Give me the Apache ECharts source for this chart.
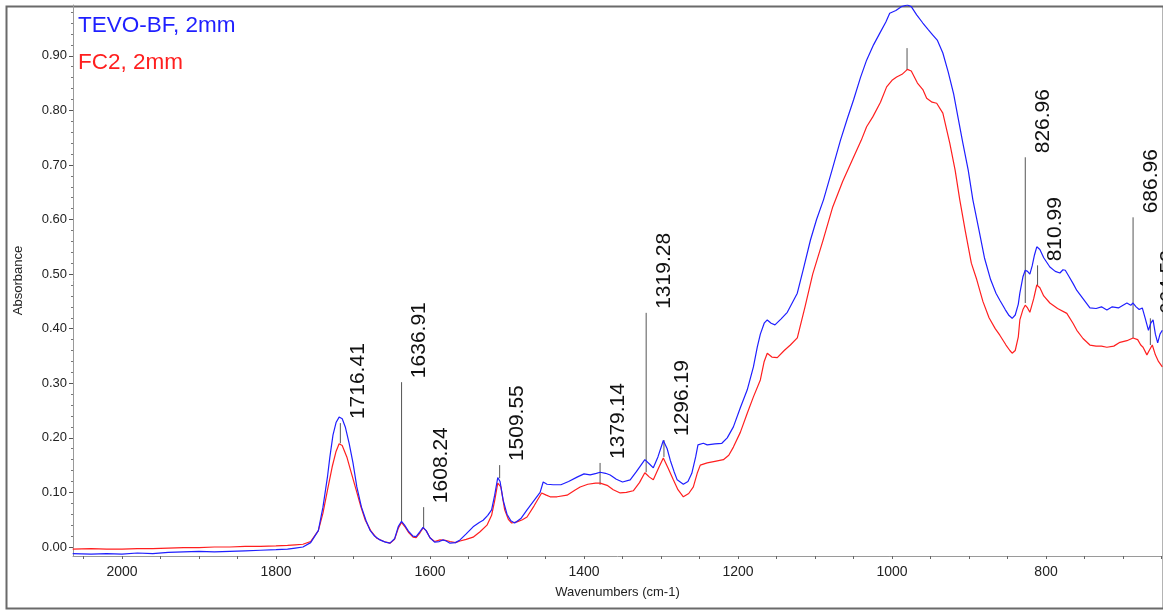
<!DOCTYPE html>
<html>
<head>
<meta charset="utf-8">
<script src="https://cdn.jsdelivr.net/npm/echarts@6/dist/echarts.min.js"></script>
<style>
html,body{margin:0;padding:0;background:#fff;}
#chart{width:1163px;height:610px;}
</style>
</head>
<body>
<div id="chart"></div>
<script>
// ---- data ----
const seriesNames = ['TEVO-BF, 2mm', 'FC2, 2mm'];
const seriesColors = ['#1f1fff', '#ff1f1f'];

const blueWn = [2064,2040,2020,2000,1980,1960,1940,1920,1900,1880,1860,1840,1820,1800,1785,1775,1765,1755,1745,1739,1733,1730,1726,1722,1718,1714,1710,1705,1700,1695,1689,1683,1678,1672,1665,1658,1652,1646,1641,1637,1633,1628,1622,1618,1613,1609,1605,1600,1594,1588,1583,1579,1574,1567,1561,1553,1544,1536,1531,1525,1520,1516,1512,1509,1505,1500,1495,1490,1482,1474,1465,1457,1453,1448,1440,1430,1420,1409,1400,1392,1384,1379,1372,1366,1358,1350,1340,1332,1326,1321,1315,1310,1304,1297,1292,1288,1283,1279,1271,1265,1260,1255,1252,1245,1240,1230,1221,1214,1206,1197,1188,1180,1175,1171,1166,1162,1157,1152,1144,1136,1123,1115,1106,1098,1089,1078,1067,1058,1050,1041,1033,1024,1016,1008,1003,995,988,980,975,968,960,953,947,941,934,927,920,914,908,901,895,887,880,872,865,860,853,848,844,840,836,834,830,827,824,821,818,815,812,808,803,795,788,782,778,775,770,765,760,752,743,735,728,721,714,706,700,695,690,687,683,679,675,671,667,664,661,658,655,652,649];
const blueAbs = [-0.012,-0.013,-0.012,-0.013,-0.011,-0.012,-0.010,-0.009,-0.008,-0.009,-0.008,-0.007,-0.006,-0.005,-0.004,-0.002,0.000,0.008,0.030,0.073,0.130,0.165,0.205,0.228,0.238,0.235,0.220,0.190,0.154,0.110,0.073,0.048,0.031,0.020,0.013,0.009,0.007,0.015,0.038,0.047,0.040,0.029,0.020,0.019,0.028,0.036,0.030,0.017,0.009,0.010,0.013,0.011,0.007,0.008,0.013,0.024,0.037,0.045,0.049,0.058,0.068,0.095,0.127,0.120,0.086,0.060,0.048,0.044,0.052,0.068,0.085,0.100,0.119,0.115,0.114,0.114,0.120,0.128,0.134,0.132,0.135,0.137,0.135,0.132,0.124,0.119,0.123,0.138,0.150,0.160,0.152,0.145,0.165,0.195,0.180,0.159,0.138,0.123,0.115,0.120,0.135,0.165,0.187,0.190,0.187,0.189,0.190,0.200,0.220,0.255,0.288,0.330,0.366,0.390,0.410,0.416,0.410,0.407,0.418,0.430,0.465,0.510,0.562,0.600,0.636,0.690,0.745,0.785,0.819,0.860,0.892,0.920,0.941,0.962,0.978,0.983,0.990,0.993,0.990,0.975,0.960,0.948,0.938,0.928,0.905,0.870,0.830,0.785,0.740,0.690,0.636,0.580,0.530,0.490,0.465,0.452,0.435,0.424,0.419,0.425,0.445,0.465,0.495,0.507,0.505,0.500,0.515,0.535,0.550,0.545,0.530,0.513,0.505,0.502,0.508,0.507,0.495,0.483,0.470,0.455,0.438,0.437,0.440,0.434,0.440,0.438,0.443,0.447,0.443,0.447,0.440,0.435,0.438,0.418,0.397,0.410,0.416,0.390,0.374,0.390,0.397];

const redWn = [2064,2040,2020,2000,1980,1960,1940,1920,1900,1880,1860,1840,1820,1800,1785,1775,1765,1755,1745,1739,1733,1727,1722,1718,1714,1708,1703,1697,1690,1684,1677,1669,1660,1652,1646,1641,1637,1633,1628,1622,1618,1613,1609,1605,1600,1594,1587,1580,1574,1567,1561,1553,1544,1535,1526,1520,1516,1512,1508,1503,1498,1494,1487,1480,1474,1465,1455,1449,1444,1435,1422,1412,1405,1395,1385,1379,1370,1362,1353,1345,1336,1328,1321,1315,1310,1303,1297,1291,1284,1278,1271,1264,1258,1253,1249,1240,1230,1219,1212,1206,1197,1188,1180,1171,1166,1162,1156,1149,1140,1132,1123,1113,1103,1090,1077,1064,1050,1040,1033,1025,1015,1007,1000,994,987,980,975,967,960,955,948,942,934,925,918,912,905,897,890,882,874,866,860,852,847,844,840,836,834,830,827,824,821,816,812,808,803,795,785,773,765,760,752,743,735,728,721,712,704,695,687,681,677,674,669,666,662,658,654,649];
const redAbs = [-0.004,-0.003,-0.004,-0.004,-0.003,-0.003,-0.002,-0.001,-0.001,0.000,0.000,0.001,0.001,0.002,0.003,0.004,0.005,0.010,0.030,0.062,0.105,0.147,0.175,0.189,0.186,0.165,0.140,0.110,0.075,0.049,0.030,0.016,0.010,0.007,0.014,0.035,0.045,0.038,0.027,0.018,0.017,0.026,0.035,0.030,0.017,0.010,0.013,0.012,0.010,0.008,0.011,0.014,0.018,0.028,0.040,0.058,0.085,0.117,0.110,0.068,0.050,0.044,0.046,0.050,0.055,0.075,0.099,0.095,0.092,0.092,0.095,0.104,0.110,0.115,0.117,0.117,0.113,0.105,0.099,0.100,0.103,0.118,0.136,0.128,0.123,0.145,0.163,0.145,0.123,0.105,0.092,0.098,0.110,0.135,0.150,0.154,0.157,0.160,0.168,0.183,0.210,0.245,0.275,0.306,0.340,0.355,0.348,0.347,0.360,0.370,0.383,0.440,0.500,0.560,0.623,0.670,0.714,0.745,0.770,0.788,0.815,0.843,0.855,0.861,0.866,0.875,0.872,0.850,0.838,0.822,0.815,0.813,0.795,0.740,0.690,0.636,0.580,0.520,0.490,0.450,0.420,0.400,0.388,0.370,0.360,0.355,0.360,0.385,0.416,0.435,0.443,0.438,0.430,0.455,0.480,0.475,0.460,0.447,0.437,0.428,0.410,0.397,0.382,0.370,0.368,0.368,0.366,0.368,0.375,0.378,0.383,0.380,0.370,0.366,0.352,0.360,0.370,0.352,0.340,0.330];

// peak annotations: wavenumber, line top / bottom (absorbance), label text
const peakWn     = [1716.41,1636.91,1608.24,1509.55,1379.14,1319.28,1296.19,980.5,826.96,810.99,686.96,664.53];
const peakTop    = [0.227,0.302,0.073,0.150,0.154,0.429,0.196,0.914,0.714,0.516,0.604,0.419];
const peakBottom = [0.190,0.046,0.035,0.126,0.114,0.137,0.165,0.874,0.447,0.480,0.383,0.370];
const peakLabels = ['1716.41','1636.91','1608.24','1509.55','1379.14','1319.28','1296.19','','826.96','810.99','686.96','664.53'];

const xTickLabels = [2000,1800,1600,1400,1200,1000,800];
const xMinorTicks = [];
for (let v = 650; v <= 2050; v += 50) xMinorTicks.push(v);
const yTickLabels = [0,0.1,0.2,0.3,0.4,0.5,0.6,0.7,0.8,0.9];
const yMinorTicks = [];
for (let i = 0; i <= 49; i++) { const v = Math.round(i*2)/100; if (i % 5 !== 0) yMinorTicks.push(v); }

const X_MIN = 649.4, X_MAX = 2063.6, Y_MIN = -0.0165, Y_MAX = 0.993;
const FONT = '"Liberation Sans", Arial, sans-serif';

const chart = echarts.init(document.getElementById('chart'), null, {renderer: 'canvas'});

function pairs(xs, ys){ return xs.map((x,i)=>[x, ys[i]]); }

const option = {
  animation: false,
  backgroundColor: '#fff',
  textStyle: {fontFamily: FONT},
  graphic: [{
    type: 'rect', left: 4, top: 4, z: -10,
    shape: {x: 0, y: 0, width: 1157, height: 602},
    style: {fill: 'none', stroke: '#6a6a6a', lineWidth: 2}
  }],
  legend: {
    orient: 'vertical', left: 68, top: 7, itemGap: 9,
    itemWidth: 0, itemHeight: 0, icon: 'rect',
    selectedMode: false,
    textStyle: {fontSize: 22.5, lineHeight: 28, fontFamily: FONT},
    data: seriesNames.map((n,i)=>({name: n, textStyle: {color: seriesColors[i]}}))
  },
  grid: {left: 73, right: 1, top: 5, bottom: 54, containLabel: false},
  xAxis: [{
    type: 'value', inverse: true, min: X_MIN, max: X_MAX,
    name: 'Wavenumbers (cm-1)', nameLocation: 'middle', nameGap: 30,
    nameTextStyle: {fontSize: 13, color: '#222', fontFamily: FONT},
    axisLine: {show: true, onZero: false, lineStyle: {color: '#9a9a9a', width: 1}},
    axisTick: {show: true, customValues: xMinorTicks, length: 3, lineStyle: {color: '#666'}},
    axisLabel: {customValues: xTickLabels, fontSize: 14, color: '#222', margin: 9, fontFamily: FONT,
      formatter: v => String(Math.round(v))},
    splitLine: {show: false}
  }],
  yAxis: [{
    type: 'value', min: Y_MIN, max: Y_MAX,
    name: 'Absorbance', nameLocation: 'middle', nameGap: 48, nameRotate: 90,
    nameTextStyle: {fontSize: 13, color: '#222', fontFamily: FONT},
    axisLine: {show: true, onZero: false, lineStyle: {color: '#9a9a9a', width: 1}},
    axisTick: {show: true, customValues: yTickLabels, length: 4, lineStyle: {color: '#555'}},
    axisLabel: {customValues: yTickLabels, fontSize: 13, color: '#222', margin: 6, fontFamily: FONT,
      formatter: v => v.toFixed(2)},
    splitLine: {show: false}
  },{
    type: 'value', min: Y_MIN, max: Y_MAX, position: 'left',
    axisLine: {show: false},
    axisTick: {show: true, customValues: yMinorTicks, length: 2, lineStyle: {color: '#777'}},
    axisLabel: {show: false},
    splitLine: {show: false}
  }],
  series: [
    {
      name: seriesNames[1], type: 'line', data: pairs(redWn, redAbs),
      showSymbol: false, symbol: 'none', smooth: false,
      lineStyle: {color: seriesColors[1], width: 1.2}, itemStyle: {color: seriesColors[1]}, z: 3
    },
    {
      name: seriesNames[0], type: 'line', data: pairs(blueWn, blueAbs),
      showSymbol: false, symbol: 'none', smooth: false,
      lineStyle: {color: seriesColors[0], width: 1.2}, itemStyle: {color: seriesColors[0]}, z: 4
    },
    {
      name: 'peaks', type: 'custom', clip: false, z: 2,
      data: peakWn.map((w,i)=>[w, peakTop[i], peakBottom[i]]),
      encode: {x: 0, y: 1},
      renderItem: function(params, api){
        const w = api.value(0), top = api.value(1), bot = api.value(2);
        const p1 = api.coord([w, top]);
        const p2 = api.coord([w, bot]);
        const lbl = peakLabels[params.dataIndex];
        const children = [{
          type: 'line',
          shape: {x1: p1[0], y1: p1[1], x2: p2[0], y2: p2[1]},
          style: {stroke: '#555', lineWidth: 1}
        }];
        if (lbl) {
          children.push({
            type: 'text', x: p1[0] + 18, y: p1[1] - 4, rotation: Math.PI/2,
            style: {text: lbl, fontSize: 21, fill: '#111', align: 'left', verticalAlign: 'middle', fontFamily: FONT}
          });
        }
        return {type: 'group', children: children};
      }
    }
  ]
};
chart.setOption(option);
</script>
</body>
</html>
